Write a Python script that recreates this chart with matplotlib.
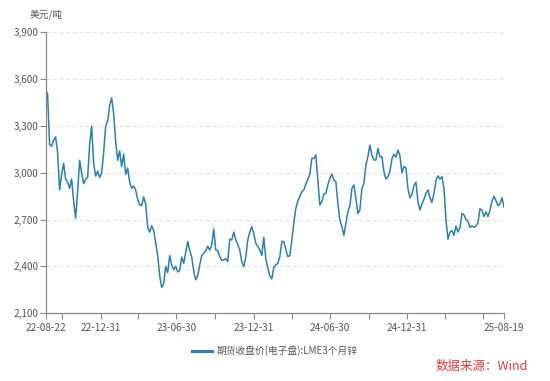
import matplotlib
matplotlib.use("Agg")
import matplotlib.pyplot as plt
import pandas as pd
import numpy as np

plt.rcParams['font.family'] = ['Noto Sans CJK SC', 'DejaVu Sans']

start_date = "2022-08-22"
end_date = "2025-08-19"

# LME 3-month zinc close (USD/t) at roughly equal time steps
zinc = [
    3540, 3500, 3180, 3170, 3210, 3230, 3130, 2890, 2990, 3060,
    2960, 2940, 2900, 2960, 2820, 2710, 2880, 3080, 3000, 2930,
    2960, 2970, 3180, 3300, 3060, 2980, 3010, 2970, 3000, 3130,
    3300, 3330, 3430, 3480, 3380, 3200, 3080, 3140, 3040, 3120,
    2990, 3030, 2940, 2900, 2915, 2890, 2830, 2795, 2790, 2845,
    2800, 2650, 2620, 2660, 2630, 2550, 2470, 2340, 2265, 2290,
    2400, 2360, 2470, 2410, 2380, 2400, 2365, 2375, 2460, 2420,
    2490, 2560, 2500, 2460, 2370, 2315, 2340, 2410, 2470, 2485,
    2500, 2530, 2505, 2540, 2640, 2506, 2500, 2463, 2440, 2441,
    2450, 2431, 2575, 2570, 2620, 2570, 2540, 2505, 2430, 2399,
    2460, 2570, 2620, 2655, 2610, 2548, 2530, 2505, 2470, 2587,
    2450, 2390, 2340, 2320, 2395, 2410, 2420, 2463, 2560, 2560,
    2510, 2463, 2470, 2570, 2680, 2772, 2820, 2847, 2879, 2890,
    2928, 2958, 2992, 3092, 3092, 3114, 2954, 2794, 2815, 2864,
    2868, 2922, 2964, 2992, 2954, 2943, 2804, 2697, 2655, 2600,
    2676, 2751, 2787, 2900, 2922, 2836, 2740, 2762, 2900, 2932,
    3050, 3103, 3178, 3114, 3082, 3082, 3157, 3103, 3103, 3007,
    2960, 2975, 3007, 3090, 3120, 3100, 3146, 3110, 3000, 3040,
    3030, 2900, 2840, 2860, 2920, 2940, 2815, 2762, 2800, 2830,
    2870, 2890, 2840, 2810, 2870, 2950, 2980, 2960, 2975, 2900,
    2700, 2575, 2620, 2630, 2600, 2660, 2620, 2650, 2740, 2730,
    2700, 2690, 2650, 2660, 2650, 2660, 2680, 2770, 2760, 2720,
    2750, 2720, 2760, 2820, 2850, 2820, 2790, 2800, 2840, 2780,
]

y_ticks = [2100, 2400, 2700, 3000, 3300, 3600, 3900]
x_tick_dates = ["2022-08-22", "2022-09-30", "2022-12-31", "2023-03-31", "2023-06-30",
                "2023-09-30", "2023-12-31", "2024-03-31", "2024-06-30", "2024-09-30",
                "2024-12-31", "2025-03-31", "2025-06-30", "2025-08-19"]
x_tick_labels = ["22-08-22", "", "22-12-31", "", "23-06-30", "", "23-12-31", "",
                 "24-06-30", "", "24-12-31", "", "", "25-08-19"]

series_name = "期货收盘价(电子盘):LME3个月锌"
unit_label = "美元/吨"
source_label = "数据来源：Wind"

dates = pd.date_range(start_date, end_date, periods=len(zinc))

fig = plt.figure(figsize=(5.5, 3.81), dpi=100)
ax = fig.add_axes([0.0829, 0.1777, 0.9164 - 0.0829, 0.9152 - 0.1777])

line_color = "#2d80aa"
axis_color = "#888888"
text_color = "#555555"

ax.plot(dates, zinc, color=line_color, lw=1.1, label=series_name, solid_joinstyle="round")

ax.set_ylim(2100, 3900)
ax.set_xlim(pd.Timestamp(start_date), pd.Timestamp(end_date))
ax.set_yticks(y_ticks)
ax.set_yticklabels([f"{v:,}" for v in y_ticks])
ax.set_xticks(pd.to_datetime(x_tick_dates))
ax.set_xticklabels(x_tick_labels)

for v in y_ticks[1:]:
    ax.axhline(v, color="#e3e3e3", lw=0.8, ls=(0, (3, 3)), zorder=0)

for s in ["top", "right"]:
    ax.spines[s].set_visible(False)
for s in ["left", "bottom"]:
    ax.spines[s].set_color(axis_color)
    ax.spines[s].set_linewidth(0.9)

ax.tick_params(axis="both", colors=axis_color, labelcolor=text_color, labelsize=7.2,
               length=4, width=0.8, direction="out")
ax.tick_params(axis="y", pad=1)
ax.tick_params(axis="x", pad=3)

fig.text(45.6 / 550, 1 - 15 / 381, unit_label, fontsize=7, color=text_color,
         ha="center", va="center")

leg = fig.legend(loc="center", bbox_to_anchor=(0.5, 1 - 351 / 381), frameon=False,
                 fontsize=7, handlelength=2.0, handletextpad=0.5)
for t in leg.get_texts():
    t.set_color(text_color)
for h in leg.get_lines():
    h.set_linewidth(2.2)

fig.text(482 / 550, 1 - 366 / 381, source_label, fontsize=9, color="#e03a3a",
         ha="center", va="center")

fig.savefig("out.png", dpi=100)
